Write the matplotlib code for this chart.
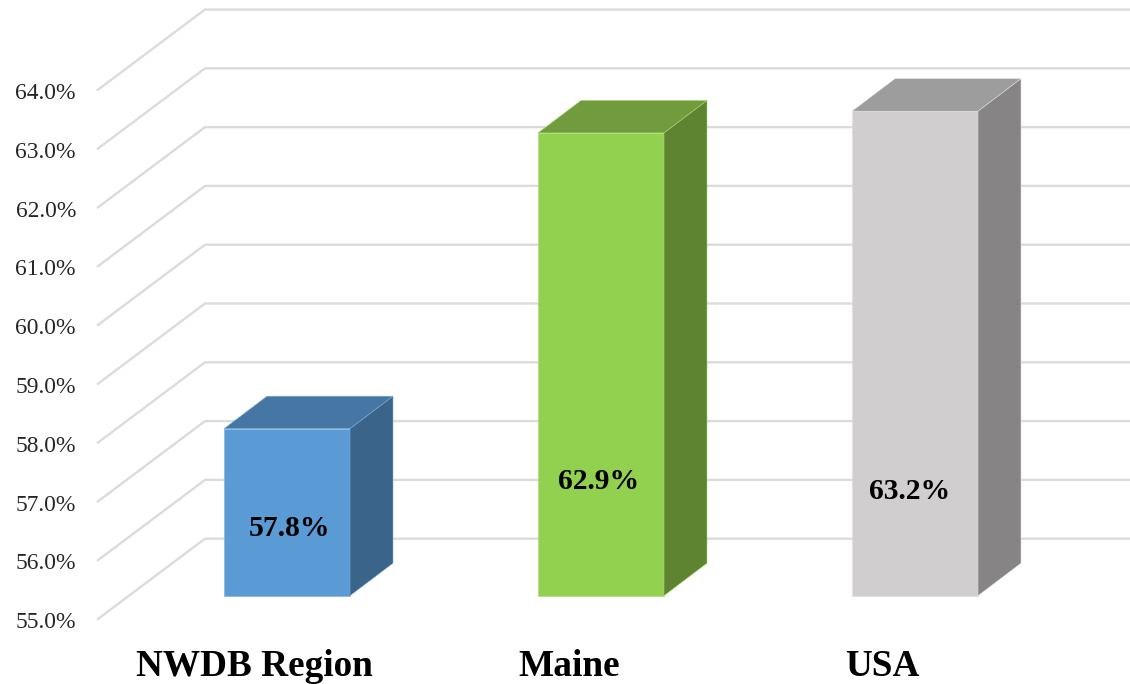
"""Oblique 3D-style column chart: NWDB Region, Maine and USA."""

import matplotlib

matplotlib.use("Agg")
import matplotlib.pyplot as plt
from matplotlib.patches import Polygon

plt.rcParams["font.family"] = ["Liberation Serif", "DejaVu Serif"]

categories = ["NWDB Region", "Maine", "USA"]
values = [57.84, 62.87, 63.24]
value_labels = ["57.8%", "62.9%", "63.2%"]
ticks = [55, 56, 57, 58, 59, 60, 61, 62, 63, 64]

front_colors = ["#5b9bd5", "#92d050", "#d0cece"]
top_colors = ["#4676a3", "#709c3d", "#9d9d9d"]
side_colors = ["#3a6489", "#5e8431", "#868484"]
edge_colors = ["#7aaede", "#a6da6e", "#dedddd"]

# the axes spans the whole figure, one unit of y is one percentage point
PX_X = 314.0
PX_Y = 58.8
BAR_W = 126 / PX_X
BAR_DX, BAR_DY = 43 / PX_X, 32.5 / PX_Y
# back wall and front edge of the floor, relative to the bars' front plane
BACK_DX, BACK_DY = (205 - 132) / PX_X, 57 / PX_Y
FRONT_DX, FRONT_DY = (97 - 132) / PX_X, -24 / PX_Y
BASE = 55.0

fig = plt.figure(figsize=(11.3, 6.84), dpi=100)
ax = fig.add_axes([0, 0, 1, 1])
ax.set_xlim(-287 / PX_X, (1130 - 287) / PX_X)
ax.set_ylim(BASE - (684 - 595.7) / PX_Y, BASE + 595.7 / PX_Y)
ax.axis("off")

grid_kw = dict(color="#dbdbdb", linewidth=1.7, solid_capstyle="butt", zorder=1)
x0 = -287 / PX_X + 132 / PX_X
x_right = (1130 - 287) / PX_X
for t in ticks:
    ax.plot(
        [x0 + FRONT_DX, x0 + BACK_DX, x_right],
        [t + FRONT_DY, t + BACK_DY, t + BACK_DY],
        **grid_kw,
    )
    ax.text(
        x0 + FRONT_DX - 21 / PX_X,
        t + FRONT_DY - 0.05,
        f"{t:.1f}%",
        ha="right",
        va="center",
        fontsize=16.9,
        color="#262626",
    )

# data labels sit at hand-placed heights in the original, not at a fixed share
label_heights = [56.15, 56.95, 56.78]
label_shift = [3, -2.5, -5]
for i, (name, v) in enumerate(zip(categories, values)):
    left, right = i - BAR_W / 2, i + BAR_W / 2
    faces = [
        (
            [(left, BASE), (right, BASE), (right, v), (left, v)],
            front_colors[i],
        ),
        (
            [
                (left, v),
                (right, v),
                (right + BAR_DX, v + BAR_DY),
                (left + BAR_DX, v + BAR_DY),
            ],
            top_colors[i],
        ),
        (
            [
                (right, BASE),
                (right + BAR_DX, BASE + BAR_DY),
                (right + BAR_DX, v + BAR_DY),
                (right, v),
            ],
            side_colors[i],
        ),
    ]
    for pts, color in faces:
        ax.add_patch(
            Polygon(pts, closed=True, facecolor=color, edgecolor=edge_colors[i],
                    linewidth=0.4, zorder=3)
        )
    ax.text(
        i + label_shift[i] / PX_X,
        label_heights[i],
        value_labels[i],
        ha="center",
        va="center",
        fontsize=21.3,
        fontweight="bold",
        color="black",
        zorder=4,
    )

label_x = [254.5, 569, 882]
for px, name in zip(label_x, categories):
    ax.text(
        (px - 287) / PX_X,
        BASE - (666 - 595.7) / PX_Y,
        name,
        ha="center",
        va="center",
        fontsize=26.8,
        fontweight="bold",
        color="black",
    )

fig.savefig("out.png", dpi=100)
plt.close(fig)
